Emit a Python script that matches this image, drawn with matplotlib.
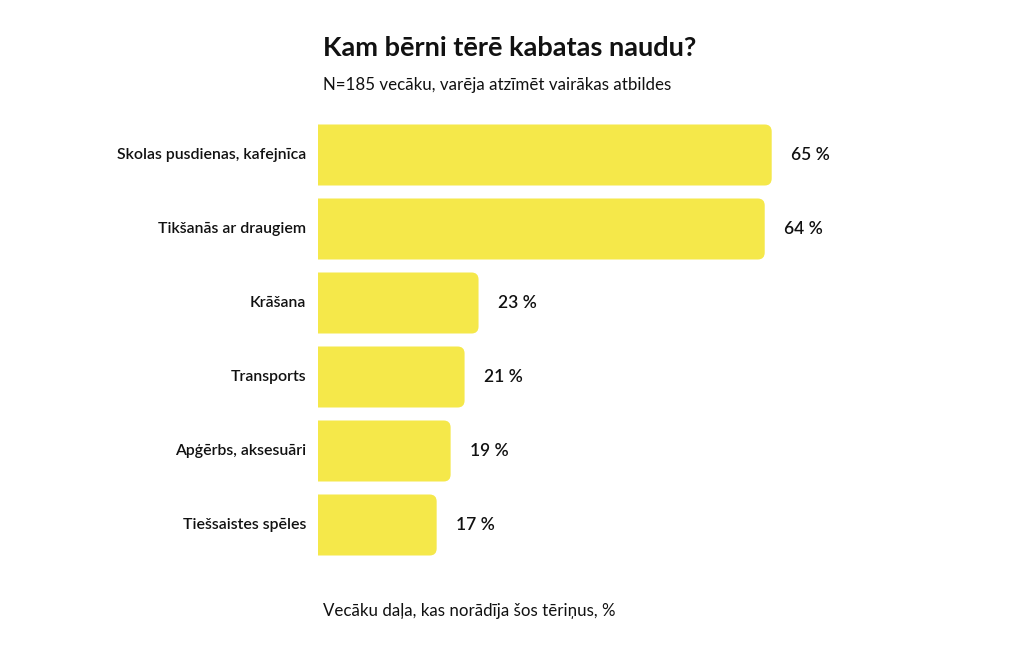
import matplotlib.pyplot as plt
from matplotlib.patches import FancyBboxPatch

categories = ['Skolas pusdienas, kafejnīca', 'Tikšanās ar draugiem', 'Krāšana',
              'Transports', 'Apģērbs, aksesuāri', 'Tiešsaistes spēles']
values = [65, 64, 23, 21, 19, 17]
value_labels = ['65 %', '64 %', '23 %', '21 %', '19 %', '17 %']

title = 'Kam bērni tērē kabatas naudu?'
subtitle = 'N=185 vecāku, varēja atzīmēt vairākas atbildes'
xlabel = 'Vecāku daļa, kas norādīja šos tēriņus, %'

plt.rcParams['font.family'] = ['Lato', 'DejaVu Sans']
W, H = 1024, 656
fig = plt.figure(figsize=(W / 100, H / 100), dpi=100)

# axes in pixel terms: bars start at x=318, rows from y=118 to 562
ax_left, ax_right = 318, 1016
ax_top, ax_bot = 118, 562
ax = fig.add_axes([ax_left / W, 1 - ax_bot / H, (ax_right - ax_left) / W, (ax_bot - ax_top) / H])
ax.set_xlim(0, 100)
ax.set_ylim(len(values) - 0.5, -0.5)
ax.axis('off')

px_x = (ax_right - ax_left) / 100.0   # px per x unit
px_y = (ax_bot - ax_top) / len(values)  # px per y unit
bar_h = 61 / px_y
radius_px = 7
aspect = px_x / px_y

yellow = '#F5E84A'
for i, (v, lab) in enumerate(zip(values, value_labels)):
    box = FancyBboxPatch((-3, i - bar_h / 2), v + 3, bar_h,
                         boxstyle='round,pad=0,rounding_size=%f' % (radius_px / px_x),
                         mutation_aspect=aspect, fc=yellow, ec='none')
    ax.add_patch(box)
    ax.text(v + 19 / px_x, i, lab, va='center', ha='left', fontsize=12.5,
            fontweight='semibold', color='#111111')
    fig.text((ax_left - 12) / W, 1 - (ax_top + px_y * (i + 0.5)) / H, categories[i],
             ha='right', va='center', fontsize=11.4, fontweight='semibold', color='#111111')

fig.text(323 / W, 1 - 48 / H, title, ha='left', va='center', fontsize=19.5,
         fontweight='bold', color='#111111')
fig.text(323 / W, 1 - 85 / H, subtitle, ha='left', va='center', fontsize=12.2,
         color='#111111')
fig.text(323 / W, 1 - 611 / H, xlabel, ha='left', va='center', fontsize=12.2,
         color='#111111')

fig.savefig('out.png', dpi=100, facecolor='white')
